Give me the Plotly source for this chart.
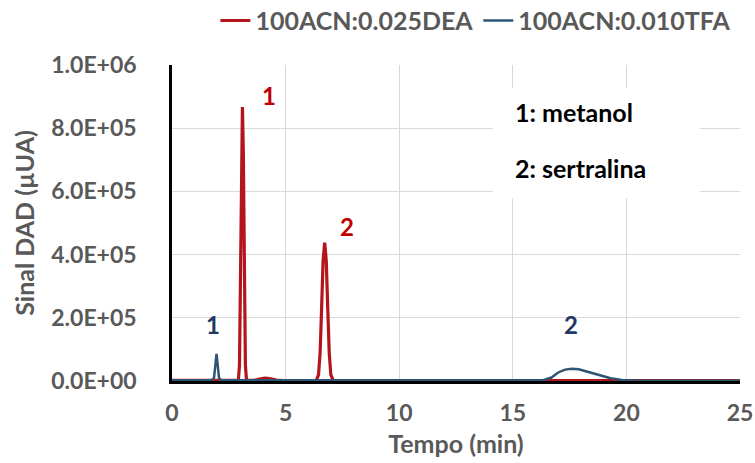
import plotly.graph_objects as go

# Retention time (min) and DAD signal (µUA) for each mobile phase
dea_time = [0, 2.80, 2.92, 2.97, 3.02, 3.06, 3.10, 3.14, 3.18, 3.23, 3.28,
            3.60, 3.90, 4.10, 4.30, 4.60, 4.90, 6.35, 6.45, 6.52, 6.58,
            6.65, 6.72, 6.79, 6.86, 6.92, 6.99, 7.10, 7.60, 25]
dea_signal = [2e3, 2e3, 2e3, 5e4, 3.2e5, 7.2e5, 8.67e5, 7.2e5, 3.2e5, 5e4, 2e3,
              2e3, 7e3, 9e3, 8e3, 3e3, 1e3, 1e3, 2e4, 9e4, 2.2e5,
              3.8e5, 4.38e5, 3.8e5, 2.2e5, 9e4, 2e4, 1e3, 1e3, 1e3]

tfa_time = [0, 1.75, 1.85, 1.90, 1.96, 2.02, 2.07, 2.17, 16.3, 16.7, 17.0,
            17.3, 17.6, 17.9, 18.3, 18.8, 19.3, 19.8, 20.5, 25]
tfa_signal = [2e3, 2e3, 1e4, 4.5e4, 8.6e4, 4.5e4, 1e4, 2e3, 2e3, 1.1e4, 2.7e4,
              3.6e4, 3.9e4, 3.7e4, 3.0e4, 1.9e4, 9e3, 3e3, 1e3, 1e3]

x_ticks = [0, 5, 10, 15, 20, 25]
y_ticks = [0, 2e5, 4e5, 6e5, 8e5, 1e6]
y_tick_text = ["0.0E+00", "2.0E+05", "4.0E+05", "6.0E+05", "8.0E+05", "1.0E+06"]

# Peak labels: (time, signal, text, colour)
peak_labels = [
    (4.25, 9.05e5, "1", "#C00000"),
    (7.7, 4.9e5, "2", "#C00000"),
    (1.8, 1.8e5, "1", "#1F3864"),
    (17.55, 1.78e5, "2", "#1F3864"),
]

RED = "#B3151D"
BLUE = "#2E5472"
GREY = "#595959"
FONT = "Lato"

fig = go.Figure()
fig.add_trace(go.Scatter(x=dea_time, y=dea_signal, mode="lines",
                         name="<b>100ACN:0.025DEA</b>",
                         line=dict(color=RED, width=3.2)))
fig.add_trace(go.Scatter(x=tfa_time, y=tfa_signal, mode="lines",
                         name="<b>100ACN:0.010TFA</b>",
                         line=dict(color=BLUE, width=2.5)))

for t, s, txt, col in peak_labels:
    fig.add_annotation(x=t, y=s, text=f"<b>{txt}</b>", showarrow=False,
                       font=dict(family=FONT, size=24, color=col))

# Compound key box
fig.add_shape(type="rect", xref="x", yref="y", x0=14.12, x1=23.24,
              y0=5.78e5, y1=9.27e5, fillcolor="white", line=dict(width=0),
              layer="above")
fig.add_annotation(x=15.0, y=8.5e5, xanchor="left", text="<b>1: metanol</b>",
                   showarrow=False, font=dict(family=FONT, size=25, color="black"))
fig.add_annotation(x=15.0, y=6.75e5, xanchor="left", text="<b>2: sertralina</b>",
                   showarrow=False, font=dict(family=FONT, size=25, color="black"))

fig.update_layout(
    width=755, height=463,
    margin=dict(l=172, r=15, t=65, b=82, autoexpand=False),
    paper_bgcolor="white", plot_bgcolor="white",
    font=dict(family=FONT, color=GREY),
    legend=dict(orientation="h", x=0.535, xanchor="center", y=1.14,
                yanchor="middle", font=dict(family=FONT, size=25, color=GREY),
                itemwidth=30, tracegroupgap=0),
    showlegend=True,
)
fig.update_xaxes(range=[0, 25], tickvals=x_ticks,
                 ticktext=[f"<b>{v}</b>" for v in x_ticks],
                 tickfont=dict(family=FONT, size=23, color=GREY),
                 showgrid=True, gridcolor="#D9D9D9", gridwidth=1,
                 showline=True, linecolor="black", linewidth=2.5,
                 zeroline=False, ticks="", ticklabelstandoff=10,
                 title=dict(text="<b>Tempo (min)</b>", standoff=11,
                            font=dict(family=FONT, size=25, color=GREY)))
fig.update_yaxes(range=[0, 1e6], tickvals=y_ticks,
                 ticktext=[f"<b>{t}</b>" for t in y_tick_text],
                 tickfont=dict(family=FONT, size=23, color=GREY),
                 showgrid=True, gridcolor="#D9D9D9", gridwidth=1,
                 showline=True, linecolor="black", linewidth=2.5,
                 zeroline=False, ticks="", ticklabelstandoff=28,
                 title=dict(text="<b>Sinal DAD (µUA)</b>", standoff=10,
                            font=dict(family=FONT, size=25, color=GREY)))

fig.write_html("out.html")
